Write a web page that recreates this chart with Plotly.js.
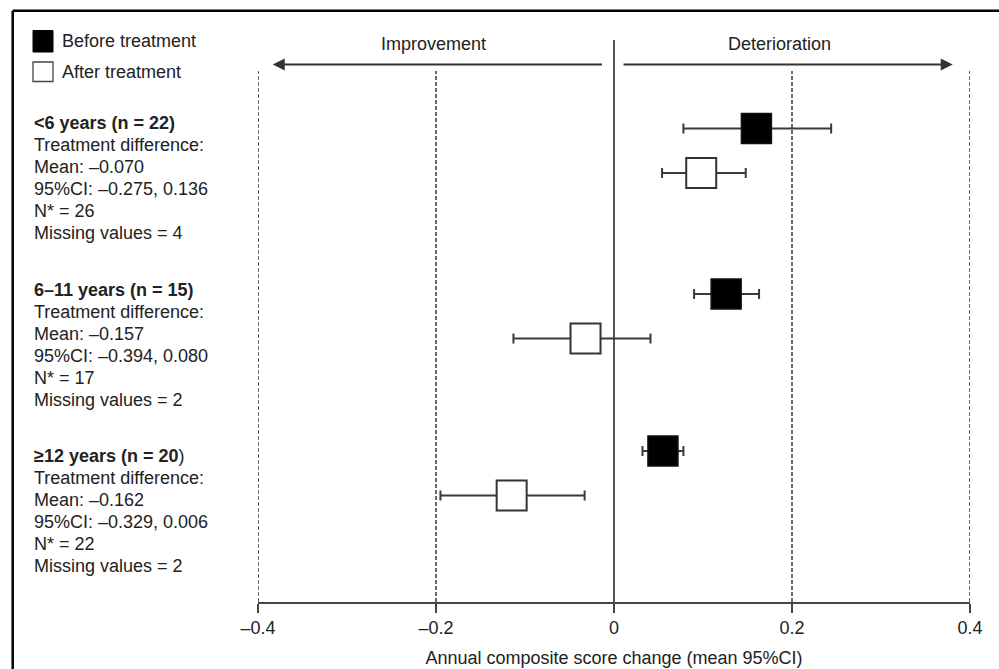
<!DOCTYPE html>
<html>
<head>
<meta charset="utf-8">
<script src="https://cdn.plot.ly/plotly-3.0.1.min.js"></script>
<style>html,body{margin:0;padding:0;background:#fff;}#chart{width:999px;height:669px;}</style>
</head>
<body>
<div id="chart"></div>
<script>
// ---- data ----
const groupLabels = ['&lt;6 years (n = 22)', '6–11 years (n = 15)', '≥12 years (n = 20'];
const groupLabelTail = ['', '', ')'];
const diffMean = ['–0.070', '–0.157', '–0.162'];
const diffCI = ['–0.275, 0.136', '–0.394, 0.080', '–0.329, 0.006'];
const nStar = [26, 17, 22];
const missingValues = [4, 2, 2];

const beforeMean = [0.160, 0.126, 0.055];
const beforeLo   = [0.078, 0.090, 0.032];
const beforeHi   = [0.244, 0.163, 0.078];

const afterMean = [0.098, -0.032, -0.115];
const afterLo   = [0.054, -0.113, -0.195];
const afterHi   = [0.148, 0.041, -0.033];

const tickVals = [-0.4, -0.2, 0, 0.2, 0.4];
const tickLabels = ['–0.4', '–0.2', '0', '0.2', '0.4'];
const seriesNames = ['Before treatment', 'After treatment'];
const axisTitle = 'Annual composite score change (mean 95%CI)';
const sideLabels = ['Improvement', 'Deterioration'];

// ---- layout helpers ----
const W = 999, H = 669;
const M = {l: 258, r: 29, t: 40, b: 67};
const PW = W - M.l - M.r, PH = H - M.t - M.b;
const px = x => (x - M.l) / PW;          // pixel -> paper x
const py = y => (H - M.b - y) / PH;      // pixel -> paper y
const FONT = 'Liberation Sans, Arial, Helvetica, sans-serif';
const TXT = '#222';

// vertical placement of the three groups (layout, in y-axis units)
const groupPos = [0, 1.028, 2.003];
const afterOffset = 0.2764;

const traces = [
  {
    type: 'scatter', mode: 'markers', name: seriesNames[0], showlegend: false,
    x: beforeMean, y: groupPos,
    error_x: {type: 'data', symmetric: false,
      array: beforeHi.map((h, i) => h - beforeMean[i]),
      arrayminus: beforeLo.map((l, i) => beforeMean[i] - l),
      color: '#3a3a3a', thickness: 2, width: 5},
    marker: {symbol: 'square', size: 30, color: '#000', line: {color: '#111', width: 1.5}},
    hoverinfo: 'x'
  },
  {
    type: 'scatter', mode: 'markers', name: seriesNames[1], showlegend: false,
    x: afterMean, y: groupPos.map(g => g + afterOffset),
    error_x: {type: 'data', symmetric: false,
      array: afterHi.map((h, i) => h - afterMean[i]),
      arrayminus: afterLo.map((l, i) => afterMean[i] - l),
      color: '#3a3a3a', thickness: 2, width: 5},
    marker: {symbol: 'square', size: 30, color: '#fff', line: {color: '#333', width: 2}},
    hoverinfo: 'x'
  }
];

const shapes = [];
const annotations = [];

// vertical reference lines
tickVals.forEach(v => {
  if (v === 0) {
    shapes.push({type: 'line', xref: 'x', yref: 'paper', x0: v, x1: v, y0: 0, y1: 1,
      line: {color: '#444', width: 1.8}, layer: 'below'});
  } else {
    shapes.push({type: 'line', xref: 'x', yref: 'paper', x0: v, x1: v, y0: 0, y1: py(71),
      line: {color: '#444', width: 1.6, dash: '4px,2px'}, layer: 'below'});
  }
});

// outer frame (top and left edges visible)
shapes.push({type: 'line', xref: 'paper', yref: 'paper', x0: px(12.7), x1: px(1010), y0: py(10.7), y1: py(10.7), line: {color: '#000', width: 2.5}});
shapes.push({type: 'line', xref: 'paper', yref: 'paper', x0: px(12.7), x1: px(12.7), y0: py(10.7), y1: py(690), line: {color: '#000', width: 2.5}});

// custom legend
shapes.push({type: 'rect', xref: 'paper', yref: 'paper', x0: px(33), x1: px(53), y0: py(30.5), y1: py(52), fillcolor: '#000', line: {color: '#000', width: 1}});
shapes.push({type: 'rect', xref: 'paper', yref: 'paper', x0: px(33), x1: px(53), y0: py(62), y1: py(81.5), fillcolor: '#fff', line: {color: '#444', width: 1.3}});
annotations.push({xref: 'paper', yref: 'paper', x: px(59.5), y: py(41.5), xanchor: 'left', yanchor: 'middle', showarrow: false, text: seriesNames[0], font: {family: FONT, size: 18, color: TXT}});
annotations.push({xref: 'paper', yref: 'paper', x: px(59.5), y: py(71.5), xanchor: 'left', yanchor: 'middle', showarrow: false, text: seriesNames[1], font: {family: FONT, size: 18, color: TXT}});

// group text blocks
const groupTop = [123.3, 289.5, 456];
const lineGap = 22;
groupLabels.forEach((g, i) => {
  const lines = [
    '<b>' + g + '</b>' + groupLabelTail[i],
    'Treatment difference:',
    'Mean: ' + diffMean[i],
    '95%CI: ' + diffCI[i],
    'N* = ' + nStar[i],
    'Missing values = ' + missingValues[i]
  ];
  lines.forEach((t, k) => {
    annotations.push({xref: 'paper', yref: 'paper', x: px(31.5), y: py(groupTop[i] + k * lineGap),
      xanchor: 'left', yanchor: 'middle', showarrow: false, text: t,
      font: {family: FONT, size: 18, color: TXT}});
  });
});

// direction arrows and labels
annotations.push({xref: 'x', yref: 'paper', x: -0.3834, y: py(64.5), ax: 330.7, ay: 0, text: '', showarrow: true,
  arrowhead: 2, arrowsize: 1.2, arrowwidth: 2, arrowcolor: '#333', standoff: 0, startstandoff: 0});
annotations.push({xref: 'x', yref: 'paper', x: 0.3806, y: py(64.5), ax: -330.7, ay: 0, text: '', showarrow: true,
  arrowhead: 2, arrowsize: 1.2, arrowwidth: 2, arrowcolor: '#333', standoff: 0, startstandoff: 0});
annotations.push({xref: 'paper', yref: 'paper', x: px(433), y: py(44), xanchor: 'center', yanchor: 'middle', showarrow: false,
  text: sideLabels[0], font: {family: FONT, size: 18, color: TXT}});
annotations.push({xref: 'paper', yref: 'paper', x: px(779), y: py(44), xanchor: 'center', yanchor: 'middle', showarrow: false,
  text: sideLabels[1], font: {family: FONT, size: 18, color: TXT}});

const layout = {
  width: W, height: H,
  margin: M,
  paper_bgcolor: '#fff', plot_bgcolor: '#fff',
  showlegend: false,
  font: {family: FONT, size: 18, color: TXT},
  xaxis: {
    range: [-0.4, 0.4], tickvals: tickVals, ticktext: tickLabels,
    showgrid: false, zeroline: false, showline: true, linecolor: '#444', linewidth: 1.8,
    ticks: 'outside', ticklen: 9, tickwidth: 1.6, tickcolor: '#444',
    tickfont: {family: FONT, size: 18, color: TXT},
    title: {text: axisTitle, font: {family: FONT, size: 18, color: TXT}, standoff: 14},
    fixedrange: true
  },
  yaxis: {
    range: [2.941, -0.5497], visible: false, showgrid: false, zeroline: false, fixedrange: true
  },
  shapes: shapes,
  annotations: annotations
};

Plotly.newPlot('chart', traces, layout, {displayModeBar: false, staticPlot: true});
</script>
</body>
</html>
